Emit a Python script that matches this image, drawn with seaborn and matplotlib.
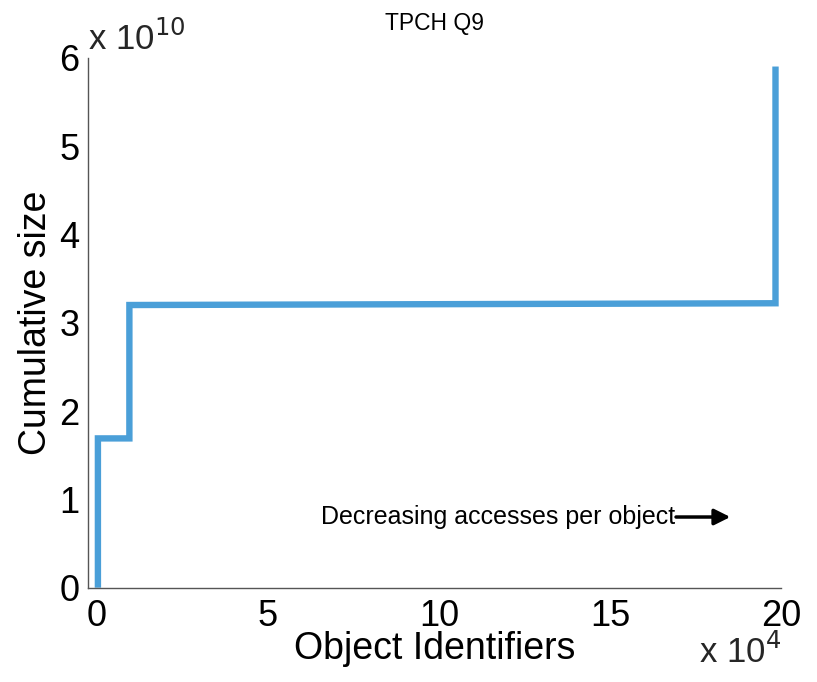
import matplotlib
matplotlib.use("Agg")
import matplotlib.pyplot as plt
import seaborn as sns
import pandas as pd

# Data (x in units of 1e4 object ids, y in units of 1e10 bytes)
object_ids = [0.03, 0.03, 0.95, 0.95, 19.84, 19.84]
cumulative_size = [0.0, 1.69, 1.69, 3.20, 3.22, 5.90]
x_ticks = [0, 5, 10, 15, 20]
y_ticks = [0, 1, 2, 3, 4, 5, 6]

df = pd.DataFrame({"x": object_ids, "y": cumulative_size})

sns.set_theme(style="white")
plt.rcParams['font.family'] = ['Liberation Sans', 'DejaVu Sans']

fig = plt.figure(figsize=(8.17, 6.82), dpi=100)
ax = fig.add_axes([0.1077, 0.1383, 0.9559 - 0.1077, 0.9154 - 0.1383])

sns.lineplot(data=df, x="x", y="y", sort=False, estimator=None, ax=ax,
             color="#4a9fd8", linewidth=4.6, solid_joinstyle="miter",
             solid_capstyle="butt")

ax.set_xlim(-0.26, 20)
ax.set_ylim(0, 6)
ax.set_xticks(x_ticks)
ax.set_yticks(y_ticks)
ax.tick_params(direction="in", length=5, width=0.8, color="#555555",
               labelsize=26, labelcolor="black")
ax.tick_params(axis="x", pad=8)
ax.tick_params(axis="y", pad=6)
for s in ["top", "right"]:
    ax.spines[s].set_visible(False)
for s in ["left", "bottom"]:
    ax.spines[s].set_color("#555555")
    ax.spines[s].set_linewidth(1.0)

ax.set_xlabel("Object Identifiers", fontsize=27, color="black", labelpad=-2)
ax.set_ylabel("Cumulative size", fontsize=27, color="black", labelpad=4)
ax.set_title("TPCH Q9", fontsize=16.5, color="black", pad=20)

fig.text(0.108, 0.9267, "x 10$^{10}$", fontsize=25, ha="left", va="baseline")
fig.text(0.956, 0.028, "x 10$^{4}$", fontsize=25, ha="right", va="baseline")

ax.annotate("", xy=(18.6, 0.80), xytext=(16.85, 0.80),
            arrowprops=dict(arrowstyle="-|>", color="black", lw=2.5,
                            mutation_scale=24))
ax.text(16.9, 0.80, "Decreasing accesses per object", fontsize=18,
        ha="right", va="center", color="black")

fig.savefig("out.png", dpi=100, facecolor="white")
